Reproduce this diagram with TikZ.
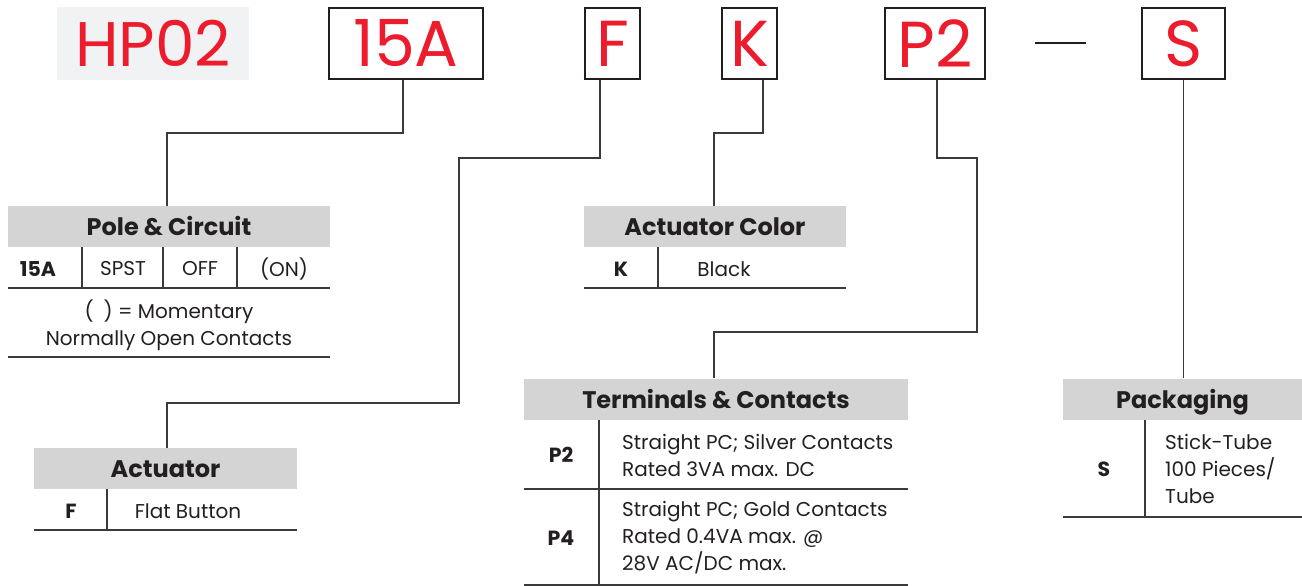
\documentclass[tikz,border=0pt]{standalone}
\usepackage{fontspec}
\setmainfont{Poppins}
\definecolor{codered}{HTML}{EC1C2D}
\definecolor{hdrgray}{HTML}{D4D4D4}
\definecolor{hpgray}{HTML}{F1F2F4}
\definecolor{ink}{HTML}{231F20}
\definecolor{lgray}{HTML}{3A3A3A}
\tikzset{
  codebox/.style={draw=ink, line width=2.4pt, fill=white, minimum height=71, inner sep=0pt,
     text=codered, font=\fontsize{65}{66}\selectfont},
  hdr/.style={fill=hdrgray, minimum height=41, inner sep=0pt, text=ink, text height=18, text depth=0,
     font=\fontsize{24}{26}\selectfont\bfseries},
  conn/.style={draw=lgray, line width=1.3pt},
  rule/.style={draw=lgray, line width=1.4pt},
  body/.style={text=ink, inner sep=0pt, font=\fontsize{20}{27}\selectfont},
  bodyb/.style={text=ink, inner sep=0pt, font=\fontsize{20.5}{27}\selectfont\bfseries},
}
\begin{document}
\begin{tikzpicture}[x=1pt,y=-1pt]
\useasboundingbox (0,0) rectangle (1302,586);
% top code row
\node[fill=hpgray, minimum width=192, minimum height=73, inner sep=0pt, text=codered,
      font=\fontsize{63}{64}\selectfont] (hp) at (153,43.5) {HP02};
\node[codebox, minimum width=154] (c15a) at (406,43.5) {15A};
\node[codebox, minimum width=55] (cf) at (612.5,43.5) {F};
\node[codebox, minimum width=55] (ck) at (749.5,43.5) {K};
\node[codebox, minimum width=100] (cp2) at (935,43.5) {P2};
\node[codebox, minimum width=83] (cs) at (1183.5,43.5) {S};
\coordinate (dashL) at (1035,43);
\coordinate (dashR) at (1086,43);
\draw[draw=ink, line width=2pt] (dashL) -- (dashR);

% headers
\node[hdr, minimum width=322] (hpole) at (169,226.5) {Pole \& Circuit};
\node[hdr, minimum width=263] (hact) at (165.5,468.5) {Actuator};
\node[hdr, minimum width=262] (hcol) at (715,226.5) {Actuator Color};
\node[hdr, minimum width=384] (hterm) at (716,399) {Terminals \& Contacts};
\node[hdr, minimum width=239] (hpack) at (1182.5,399) {Packaging};

% connectors
\coordinate (b1) at (403,133);
\draw[conn] ([xshift=-3]c15a.south) |- (b1) -| ([xshift=-2]hpole.north);
\coordinate (f1) at (600,158);
\coordinate (f2) at (459,403);
\draw[conn] ([xshift=-12.5]cf.south) |- (f1) -| (f2) -| ([xshift=1.5]hact.north);
\coordinate (k1) at (714,133);
\draw[conn] ([xshift=13.5]ck.south) |- (k1) -- ([xshift=-1]hcol.north);
\coordinate (p1) at (977,158);
\coordinate (p2) at (714,332);
\draw[conn] ([xshift=2]cp2.south) |- (p1) |- (p2) -- ([xshift=-2]hterm.north);
\draw[conn] (cs.south) -- ([xshift=1]hpack.north);

% Pole & Circuit table
\draw[rule] (8,288) -- (330,288);
\draw[rule] (8,357) -- (330,357);
\draw[rule] (82,247) -- (82,288);
\draw[rule] (163,247) -- (163,288);
\draw[rule] (237,247) -- (237,288);
\node[bodyb] (t15a) at (38,269) {15A};
\node[body] (tspst) at (123,269) {SPST};
\node[body] (toff) at (200,269) {OFF};
\node[body] (ton) at (284,269) {(ON)};
\node[body, align=center] (tmom) at (169,325) {(\hspace{0.5em}) = Momentary\\Normally Open Contacts};

% Actuator table
\draw[rule] (34,530) -- (297,530);
\draw[rule] (107,489) -- (107,530);
\node[bodyb] (tf) at (71,511) {F};
\node[body] (tflat) at (188,511) {Flat Button};

% Actuator color table
\draw[rule] (584,288) -- (846,288);
\draw[rule] (658,247) -- (658,288);
\node[bodyb] (tk) at (621,269) {K};
\node[body] (tblack) at (724,269) {Black};

% Terminals table
\draw[rule] (524,489) -- (908,489);
\draw[rule] (524,585) -- (908,585);
\draw[rule] (599,420) -- (599,585);
\node[bodyb] (tp2) at (561,455) {P2};
\node[body, align=left, anchor=west] (tp2d) at (622,455) {Straight PC; Silver Contacts\\Rated 3VA max. DC};
\node[bodyb] (tp4) at (561,538) {P4};
\node[body, align=left, anchor=west] (tp4d) at (622,538) {Straight PC; Gold Contacts\\Rated 0.4VA max. @\\28V AC/DC max.};

% Packaging table
\draw[rule] (1063,517) -- (1302,517);
\draw[rule] (1145,420) -- (1145,517);
\node[bodyb] (ts) at (1104,469) {S};
\node[body, align=left, anchor=west] (tsd) at (1165,469) {Stick-Tube\\100 Pieces/\\Tube};
\end{tikzpicture}
\end{document}
